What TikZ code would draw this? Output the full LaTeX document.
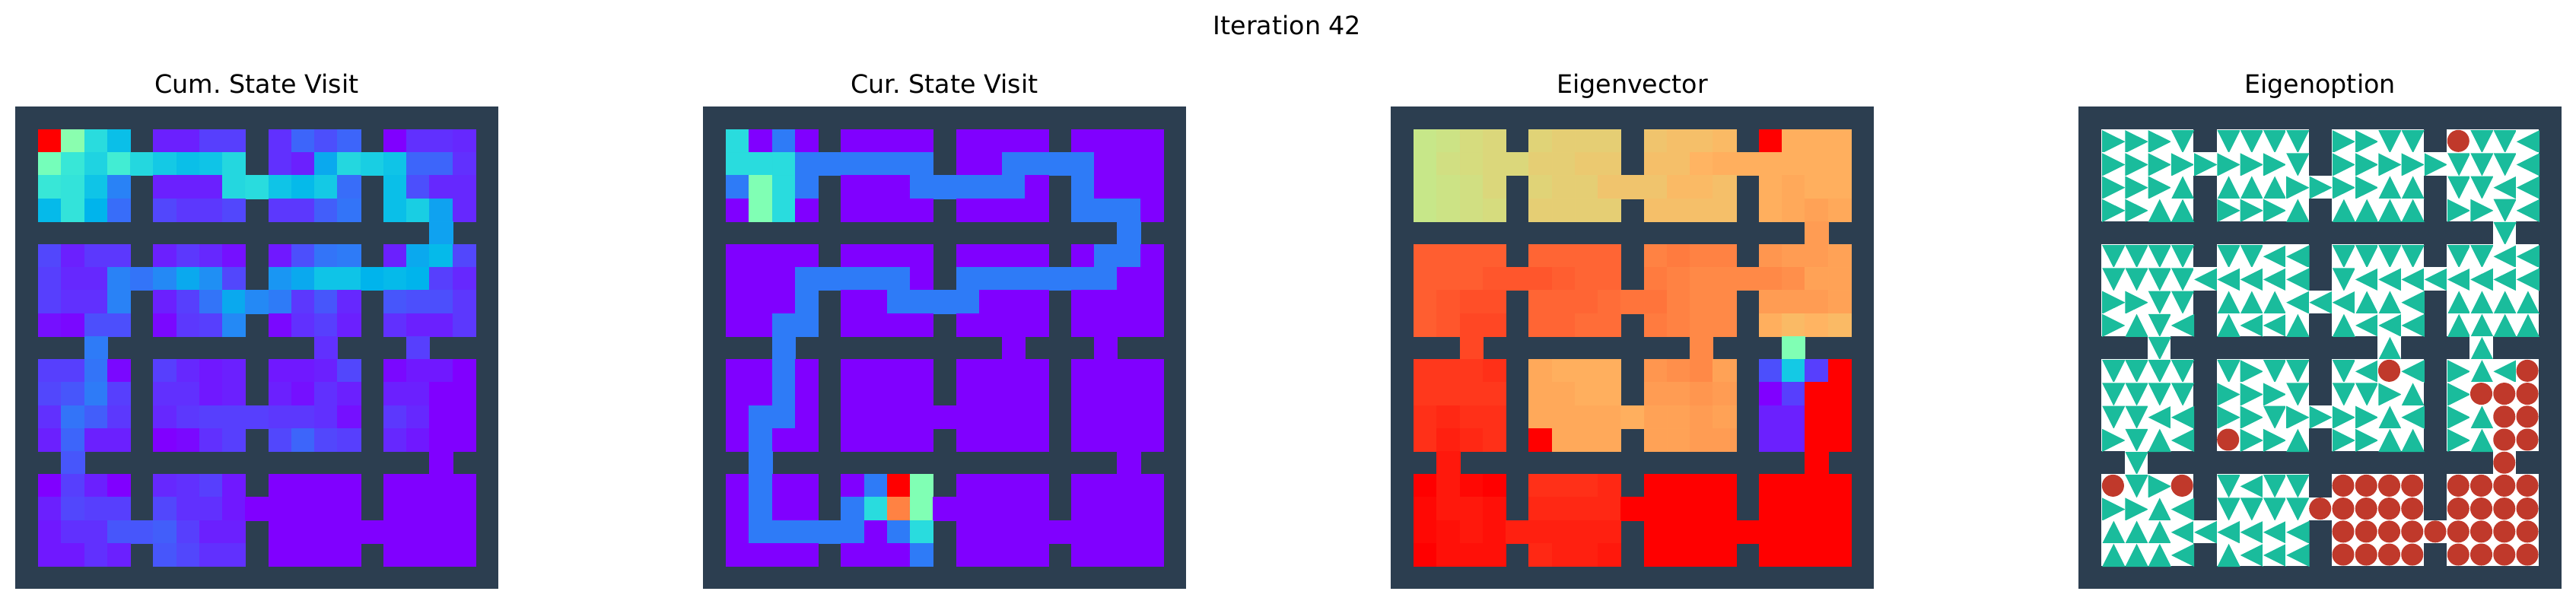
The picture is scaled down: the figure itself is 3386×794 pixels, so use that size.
\documentclass[tikz,border=0pt]{standalone}
\usepackage{fontspec}
\setmainfont{DejaVu Sans}
\usepackage{xcolor}
\definecolor{wallcol}{HTML}{2C3E50}
\definecolor{arrowcol}{HTML}{1ABC9C}
\definecolor{goalcol}{HTML}{C0392B}
\tikzset{
  titlelabel/.style={font=\fontsize{9.48pt}{11pt}\selectfont\frenchspacing, text=black, inner sep=0pt, anchor=base},
  wall/.style={fill=wallcol},
  arrowmark/.style={fill=arrowcol},
  goalmark/.style={fill=goalcol}
}
% rainbow colour map, value in percent
\newcommand{\heatcell}[3]{%
  \pgfmathsetmacro{\valR}{min(1,abs(.02*#3-.5))}%
  \pgfmathsetmacro{\valG}{sin(1.8*#3)}%
  \pgfmathsetmacro{\valB}{cos(.9*#3)}%
  \definecolor{cellcol}{rgb}{\valR,\valG,\valB}%
  \fill[cellcol, draw=cellcol, line width=.1pt] (#1,#2) rectangle (#1+1,#2+1);
}
\newcommand{\heatpanel}[3]{%
  \begin{scope}[shift={(#1,140)}, x=.3024cm, y=-.3019cm]
    \fill[wall] (0,0) rectangle (21,21);
    \foreach \rowvals [count=\rw] in {#3} {
      \foreach \val [count=\cl] in \rowvals {
        \if x\val\else\heatcell{\cl}{\rw}{\val}\fi
      }
    }
  \end{scope}
  \node[titlelabel] (#2) at (#1+317.5,122.7) {\csname title#2\endcsname};
}
\newcommand{\titlecum}{Cum. State Visit}
\newcommand{\titlecur}{Cur. State Visit}
\newcommand{\titlevec}{Eigenvector}
\newcommand{\titleopt}{Eigenoption}
% option marks, one per free cell
\newcommand{\markR}[2]{\fill[arrowmark] (#1+.03,#2+.03) -- (#1+1.03,#2+.53) -- (#1+.03,#2+1.03) -- cycle;}
\newcommand{\markL}[2]{\fill[arrowmark] (#1+1.03,#2+.03) -- (#1+.03,#2+.53) -- (#1+1.03,#2+1.03) -- cycle;}
\newcommand{\markU}[2]{\fill[arrowmark] (#1+.03,#2+1.03) -- (#1+.53,#2+.03) -- (#1+1.03,#2+1.03) -- cycle;}
\newcommand{\markD}[2]{\fill[arrowmark] (#1+.03,#2+.03) -- (#1+.53,#2+1.03) -- (#1+1.03,#2+.03) -- cycle;}
\newcommand{\markO}[2]{\fill[goalmark] (#1+.5,#2+.5) circle (.48);}
\begin{document}
\begin{tikzpicture}[x=.01cm, y=-.01cm]
\useasboundingbox (0,0) rectangle (3386,794);
\node[titlelabel] (suptitle) at (1692,46) {Iteration 42};

% Cum. State Visit
\heatpanel{20}{cum}{
{100,52,33,27,x,4,4,8,8,x,6,13,10,13,x,0,6,6,5},
{48,36,31,38,32,29,27,28,32,x,6,4,23,32,30,28,13,13,6},
{36,35,28,17,x,4,4,4,32,33,28,26,29,14,x,27,10,5,5},
{26,35,25,14,x,9,7,7,9,x,7,7,12,15,x,27,30,22,5},
{x,x,x,x,x,x,x,x,x,x,x,x,x,x,x,x,x,22,x},
{9,4,7,7,x,4,7,5,2,x,3,10,15,16,x,4,23,26,9},
{8,5,5,17,15,18,23,19,9,x,20,23,28,28,25,26,25,8,5},
{8,6,6,17,x,4,8,15,23,18,16,7,11,5,x,11,10,10,7},
{2,1,10,10,x,1,7,8,18,x,1,6,8,4,x,6,4,4,7},
{x,x,16,x,x,x,x,x,x,x,x,x,6,x,x,x,8,x,x},
{8,8,15,1,x,8,5,3,4,x,3,3,4,9,x,1,3,3,0},
{9,11,16,8,x,6,6,3,4,x,4,2,6,4,x,4,4,0,0},
{6,15,12,7,x,5,7,8,8,8,7,7,6,2,x,7,5,0,0},
{4,13,4,4,x,0,1,6,8,x,9,13,9,8,x,5,3,0,0},
{x,11,x,x,x,x,x,x,x,x,x,x,x,x,x,x,x,0,x},
{0,8,4,0,x,5,6,8,3,x,0,0,0,0,x,0,0,0,0},
{4,9,8,8,x,9,6,6,3,0,0,0,0,0,x,0,0,0,0},
{3,6,6,11,11,12,8,4,4,x,0,0,0,0,0,0,0,0,0},
{3,3,6,4,x,11,9,6,6,x,0,0,0,0,x,0,0,0,0}}

% Cur. State Visit
\heatpanel{924}{cur}{
{33,0,16,0,x,0,0,0,0,x,0,0,0,0,x,0,0,0,0},
{33,33,33,16,16,16,16,16,16,x,0,0,16,16,16,16,0,0,0},
{16,50,33,16,x,0,0,0,16,16,16,16,16,0,x,16,0,0,0},
{0,50,33,0,x,0,0,0,0,x,0,0,0,0,x,16,16,16,0},
{x,x,x,x,x,x,x,x,x,x,x,x,x,x,x,x,x,16,x},
{0,0,0,0,x,0,0,0,0,x,0,0,0,0,x,0,16,16,0},
{0,0,0,16,16,16,16,16,0,x,16,16,16,16,16,16,16,0,0},
{0,0,0,16,x,0,0,16,16,16,16,0,0,0,x,0,0,0,0},
{0,0,16,16,x,0,0,0,0,x,0,0,0,0,x,0,0,0,0},
{x,x,16,x,x,x,x,x,x,x,x,x,0,x,x,x,0,x,x},
{0,0,16,0,x,0,0,0,0,x,0,0,0,0,x,0,0,0,0},
{0,0,16,0,x,0,0,0,0,x,0,0,0,0,x,0,0,0,0},
{0,16,16,0,x,0,0,0,0,0,0,0,0,0,x,0,0,0,0},
{0,16,0,0,x,0,0,0,0,x,0,0,0,0,x,0,0,0,0},
{x,16,x,x,x,x,x,x,x,x,x,x,x,x,x,x,x,0,x},
{0,16,0,0,x,0,16,100,50,x,0,0,0,0,x,0,0,0,0},
{0,16,0,0,x,16,33,83,50,0,0,0,0,0,x,0,0,0,0},
{0,16,16,16,16,16,0,16,33,x,0,0,0,0,0,0,0,0,0},
{0,0,0,0,x,0,0,0,16,x,0,0,0,0,x,0,0,0,0}}

% Eigenvector
\heatpanel{1828}{vec}{
{64,65,67,68,x,69,70,70,70,x,72,73,73,74,x,100,76,76,76},
{64,66,67,68,68,70,70,71,71,x,73,73,75,76,76,76,76,76,76},
{64,65,66,68,x,69,70,70,72,72,72,74,74,73,x,76,77,76,76},
{64,65,66,67,x,70,70,70,70,x,73,73,73,73,x,76,77,78,77},
{x,x,x,x,x,x,x,x,x,x,x,x,x,x,x,x,x,79,x},
{88,88,88,88,x,87,87,87,87,x,83,84,83,83,x,80,79,79,78},
{88,88,88,89,89,89,88,87,87,x,84,83,82,82,82,82,81,78,78},
{88,89,90,90,x,87,87,87,86,85,85,83,82,82,x,79,79,79,78},
{88,89,91,91,x,87,87,86,86,x,84,83,82,82,x,76,74,75,74},
{x,x,91,x,x,x,x,x,x,x,x,x,82,x,x,x,50,x,x},
{93,93,93,94,x,77,76,76,76,x,80,81,82,78,x,10,29,8,100},
{93,93,93,93,x,77,77,76,76,x,79,79,80,79,x,0,8,100,100},
{94,95,94,94,x,77,77,77,77,76,78,78,79,78,x,4,4,100,100},
{94,96,95,94,x,100,77,77,77,x,78,78,79,79,x,4,4,100,100},
{x,97,x,x,x,x,x,x,x,x,x,x,x,x,x,x,x,100,x},
{100,97,99,100,x,94,94,94,95,x,100,100,100,100,x,100,100,100,100},
{99,97,97,98,x,95,95,95,95,100,100,100,100,100,x,100,100,100,100},
{99,98,97,98,96,96,96,96,96,x,100,100,100,100,100,100,100,100,100},
{100,98,98,98,x,95,96,96,97,x,100,100,100,100,x,100,100,100,100}}

% Eigenoption
\begin{scope}[shift={(2732,140)}, x=.3024cm, y=-.3019cm]
  \fill[wall] (0,0) rectangle (21,21);
  \foreach \rowvals [count=\rw] in {
    {R,R,R,D,x,D,D,D,D,x,R,R,D,D,x,O,D,D,L},
    {R,R,R,R,R,R,R,R,D,x,R,R,R,R,R,D,D,D,L},
    {R,R,R,U,x,U,U,U,R,R,R,R,U,U,x,D,D,L,L},
    {R,R,U,U,x,R,R,R,U,x,U,U,U,U,x,R,R,D,L},
    {x,x,x,x,x,x,x,x,x,x,x,x,x,x,x,x,x,D,x},
    {D,D,D,D,x,D,D,L,L,x,D,D,D,D,x,D,D,L,L},
    {D,D,D,D,L,L,L,L,L,x,D,L,L,L,L,L,L,L,L},
    {R,R,D,D,x,U,U,U,L,L,L,U,U,L,x,U,U,U,U},
    {R,U,D,L,x,U,L,L,U,x,U,L,L,L,x,U,U,U,U},
    {x,x,D,x,x,x,x,x,x,x,x,x,U,x,x,x,U,x,x},
    {D,D,D,D,x,D,R,D,D,x,D,L,O,L,x,R,U,L,O},
    {D,D,D,D,x,R,R,R,D,x,D,D,R,U,x,R,O,O,O},
    {D,D,L,L,x,R,R,D,R,R,R,R,U,L,x,R,U,O,O},
    {R,D,U,L,x,O,R,R,U,x,R,R,U,U,x,R,U,O,O},
    {x,D,x,x,x,x,x,x,x,x,x,x,x,x,x,x,x,O,x},
    {O,D,R,O,x,D,L,D,D,x,O,O,O,O,x,O,O,O,O},
    {R,R,U,L,x,D,D,D,D,O,O,O,O,O,x,O,O,O,O},
    {U,U,U,L,L,L,L,L,L,x,O,O,O,O,O,O,O,O,O},
    {U,U,U,L,x,U,L,L,L,x,O,O,O,O,x,O,O,O,O}} {
    \foreach \val [count=\cl] in \rowvals {
      \if x\val\else
        \fill[white] (\cl,\rw) rectangle (\cl+1,\rw+1);
        \csname mark\val\endcsname{\cl}{\rw}
      \fi
    }
  }
\end{scope}
\node[titlelabel] (opt) at (3049.5,122.7) {\titleopt};
\end{tikzpicture}
\end{document}
